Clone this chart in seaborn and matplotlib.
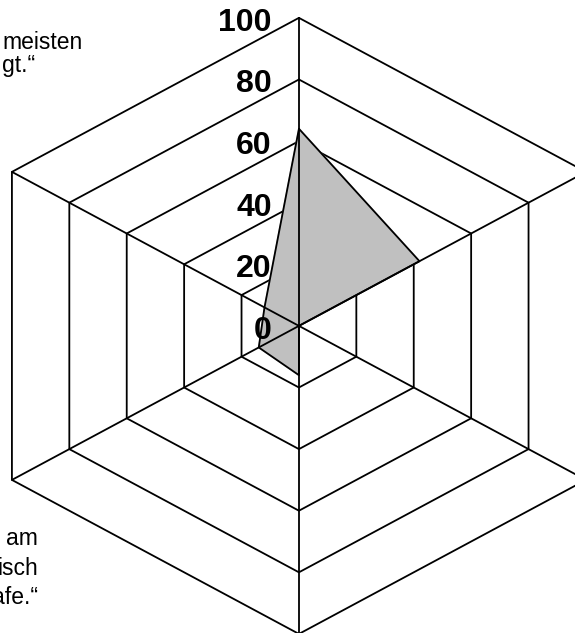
import numpy as np
import matplotlib.pyplot as plt
import seaborn as sns

########## Daten ##########

# sechs Achsen, im Uhrzeigersinn ab oben
achsen = ['oben', 'rechts oben', 'rechts unten', 'unten', 'links unten', 'links oben']
werte = [64, 42, 0, 16, 14, 12]

# Skala
stufen = [0, 20, 40, 60, 80, 100]
stufen_labels = ['0', '20', '40', '60', '80', '100']

# sichtbare Reste der Achsenbeschriftungen (links abgeschnitten)
label_links_oben = ['meisten', 'gt.“']
label_links_unten = ['am', 'isch', 'afe.“']

########## Geometrie ##########

winkel = np.deg2rad(np.arange(len(achsen)) * 60)


def punkte(r):
    r = np.asarray(r, dtype=float)
    return r * np.sin(winkel), r * np.cos(winkel)


sns.set_style('white')
plt.rcParams['font.family'] = ['Liberation Sans', 'DejaVu Sans']
plt.rcParams['text.color'] = 'black'

fig = plt.figure(figsize=(5.75, 6.33), dpi=100)
ax = fig.add_axes([0, 0, 1, 1])
ax.set_xlim(-90.2, 83.3)
ax.set_ylim(-99.7, 105.8)
ax.axis('off')

# Gitter (Sechsecke) unter der Fläche
for s in stufen[1:]:
    gx, gy = punkte([s] * len(achsen))
    ax.plot(np.append(gx, gx[0]), np.append(gy, gy[0]), color='black', lw=1.3, zorder=1)

# Datenfläche
dx, dy = punkte(werte)
ax.fill(dx, dy, color='#c0c0c0', zorder=2)
sns.lineplot(x=np.append(dx, dx[0]), y=np.append(dy, dy[0]), sort=False,
             estimator=None, color='black', lw=1.3, ax=ax, zorder=3)

# Speichen über der Fläche
sx, sy = punkte([stufen[-1]] * len(achsen))
for x_end, y_end in zip(sx, sy):
    ax.plot([0, x_end], [0, y_end], color='black', lw=1.3, zorder=4)

# Skalenbeschriftung (leicht unter die Stufe gesetzt)
for s, lab in zip(stufen, stufen_labels):
    ax.text(-8.2, s - 1.6, lab, ha='right', va='center', fontsize=23,
            fontweight='bold', color='black', zorder=5)

# Achsenbeschriftungen
fig.text(2 / 575, 1 - 72 / 633, '\n'.join(label_links_oben), ha='left',
         va='baseline', fontsize=16.5, linespacing=1.0, color='black')
fig.text(38 / 575, 1 - 604 / 633, '\n'.join(label_links_unten), ha='right',
         va='baseline', fontsize=16.5, linespacing=1.35, color='black')

plt.savefig('out.png', dpi=100)
